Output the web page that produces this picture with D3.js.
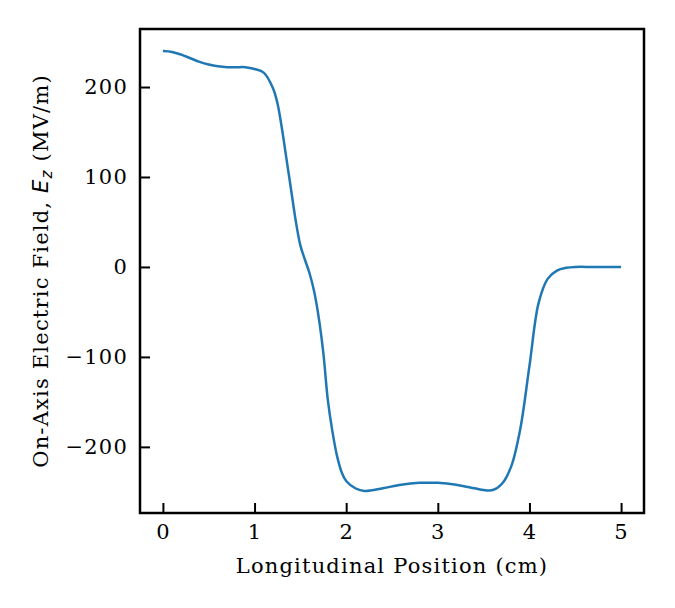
<!DOCTYPE html>
<html>
<head>
<meta charset="utf-8">
<script src="https://cdn.jsdelivr.net/npm/d3@7"></script>
<style>
  body { margin: 0; background: #fff; }
  text { font-family: "DejaVu Serif", serif; fill: #000; letter-spacing: 1.2px; }
</style>
</head>
<body>
<div id="chart"></div>
<script>
// position along the axis (cm)
var position = [0, 0.1, 0.2, 0.3, 0.4, 0.5, 0.6, 0.7, 0.8, 0.9, 1.0, 1.1, 1.2, 1.25, 1.3, 1.35, 1.4, 1.45, 1.5, 1.55,
                1.6, 1.65, 1.7, 1.75, 1.8, 1.85, 1.9, 1.95, 2.0, 2.1, 2.2, 2.4, 2.6, 2.8, 3.0, 3.2, 3.4, 3.5, 3.6, 3.7,
                3.8, 3.9, 4.0, 4.1, 4.2, 4.3, 4.4, 4.5, 4.7, 5.0]
// on-axis field Ez (MV/m)
var field = [240, 239, 236, 232, 228, 225, 223, 222, 222, 222, 220, 216, 199, 182, 153, 119, 85, 51, 24, 8,
             -7, -27, -56, -95, -148, -183, -210, -228, -238, -246, -249, -246, -242, -240, -240, -242, -246, -248, -248, -241,
             -222, -180, -110, -40, -13, -4, -1, 0, 0, 0]

var xTicks = [0, 1, 2, 3, 4, 5]
var yTicks = [-200, -100, 0, 100, 200]

var W = 675, H = 608
var margin = {top: 29, right: 31, bottom: 95, left: 140}
var fs = 21

var svg = d3.select('#chart').append('svg')
    .attr('width', W)
    .attr('height', H)

var x = d3.scaleLinear().domain([-0.25, 5.25]).range([margin.left, W - margin.right])
var y = d3.scaleLinear().domain([-273.5, 264.5]).range([H - margin.bottom, margin.top])

// line
var line = d3.line()
    .x((d, i) => x(position[i]))
    .y(d => y(d))
    .curve(d3.curveCatmullRom.alpha(0.5))

svg.append('path')
    .datum(field)
    .attr('fill', 'none')
    .attr('stroke', '#1f77b4')
    .attr('stroke-width', 2.5)
    .attr('stroke-linejoin', 'round')
    .attr('d', line)

// axes, ticks pointing inward
var gx = svg.append('g')
    .attr('transform', `translate(0,${H - margin.bottom})`)
    .call(d3.axisBottom(x).tickValues(xTicks).tickSize(-10).tickPadding(11).tickFormat(d3.format('d')))
gx.select('.domain').remove()
gx.selectAll('line').attr('stroke-width', 2)
gx.selectAll('text').attr('font-size', fs).attr('font-family', '"DejaVu Serif", serif')

var gy = svg.append('g')
    .attr('transform', `translate(${margin.left},0)`)
    .call(d3.axisLeft(y).tickValues(yTicks).tickSize(-10).tickPadding(12)
        .tickFormat(d => d < 0 ? '\u2212' + Math.abs(d) : d))
gy.select('.domain').remove()
gy.selectAll('line').attr('stroke-width', 2)
gy.selectAll('text').attr('font-size', fs).attr('font-family', '"DejaVu Serif", serif')

// frame
svg.append('rect')
    .attr('x', margin.left)
    .attr('y', margin.top)
    .attr('width', W - margin.left - margin.right)
    .attr('height', H - margin.top - margin.bottom)
    .attr('fill', 'none')
    .attr('stroke', '#000')
    .attr('stroke-width', 2.5)

// axis labels
svg.append('text')
    .attr('x', (margin.left + W - margin.right) / 2)
    .attr('y', 573)
    .attr('text-anchor', 'middle')
    .attr('font-size', fs)
    .text('Longitudinal Position (cm)')

var yl = svg.append('text')
    .attr('transform', `translate(48,${(margin.top + H - margin.bottom) / 2}) rotate(-90)`)
    .attr('text-anchor', 'middle')
    .attr('font-size', fs)
yl.append('tspan').text('On-Axis Electric Field, ')
yl.append('tspan').attr('font-family', '"DejaVu Sans", sans-serif').attr('font-style', 'italic').text('E')
yl.append('tspan').attr('font-family', '"DejaVu Sans", sans-serif').attr('font-style', 'italic')
    .attr('font-size', 15).attr('dy', 4).text('z')
yl.append('tspan').attr('dy', -4).text(' (MV/m)')
</script>
</body>
</html>
